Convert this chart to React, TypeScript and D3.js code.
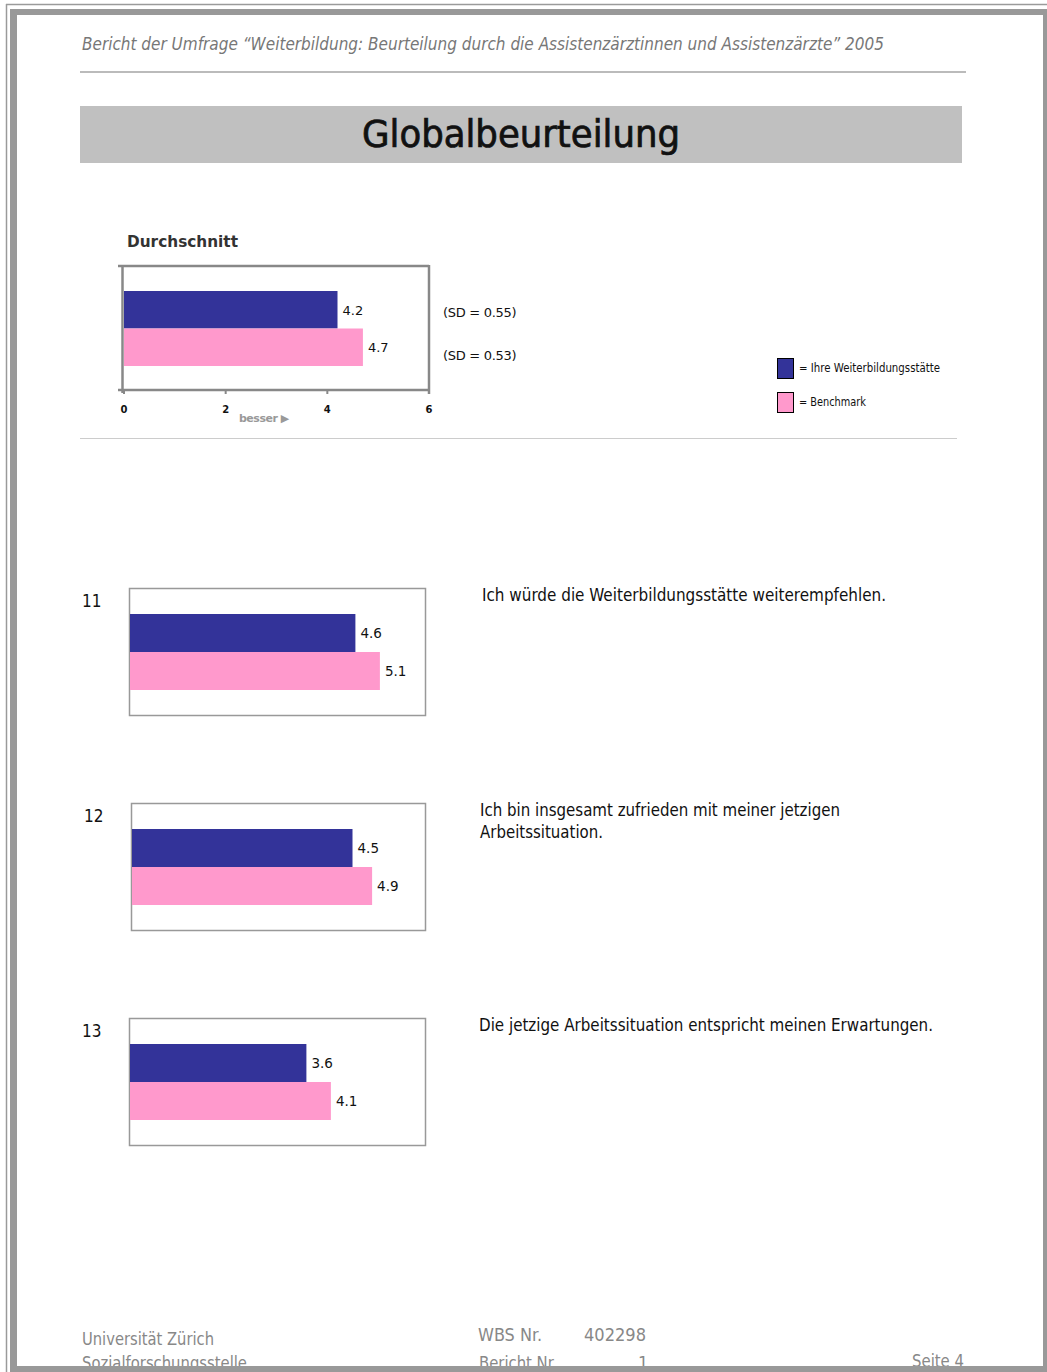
import React from "react";
import * as d3 from "d3";

// Series and values
const seriesNames = ["Ihre Weiterbildungsstätte", "Benchmark"];
const seriesColors = ["#333399", "#ff99cc"];
const averageValues = [4.2, 4.7];
const averageSD = [0.55, 0.53];
const axisTicks = [0, 2, 4, 6];

const questionIds = ["11", "12", "13"];
const questionTexts = [
  ["Ich würde die Weiterbildungsstätte weiterempfehlen."],
  ["Ich bin insgesamt zufrieden mit meiner jetzigen", "Arbeitssituation."],
  ["Die jetzige Arbeitssituation entspricht meinen Erwartungen."],
];
const ownValues = [4.6, 4.5, 3.6];
const benchmarkValues = [5.1, 4.9, 4.1];

const W = 1047;
const H = 1372;
const narrow = "'Liberation Sans Narrow', 'DejaVu Sans Condensed', 'Liberation Sans', sans-serif";
const sans = "'DejaVu Sans', 'Liberation Sans', sans-serif";

// rendered widths of the question lines
const questionLineWidths = [[404], [360, 123], [454]];

function SummaryChart() {
  const x = d3.scaleLinear().domain([0, 6]).range([124, 429]);
  const y = d3.scaleBand<string>().domain(seriesNames).range([291, 366]).padding(0);
  const top = 266;
  const bottom = 390;
  const frame = "#888888";
  return (
    <g>
      <text x={127} y={247} fontFamily={sans} fontWeight="bold" fontSize={16} fill="#333" textLength={111} lengthAdjust="spacingAndGlyphs">
        Durchschnitt
      </text>
      {/* plot frame */}
      <line x1={118} x2={429} y1={top} y2={top} stroke={frame} strokeWidth={2.5} />
      <line x1={118} x2={429} y1={bottom} y2={bottom} stroke={frame} strokeWidth={2.5} />
      <line x1={122.5} x2={122.5} y1={top - 1} y2={bottom + 3} stroke={frame} strokeWidth={2.5} />
      <line x1={429} x2={429} y1={top - 1} y2={bottom + 4} stroke={frame} strokeWidth={2.5} />
      {axisTicks.map((t) => (
        <g key={t}>
          <line x1={x(t)} x2={x(t)} y1={bottom} y2={bottom + 4} stroke={frame} strokeWidth={2} />
          <text x={x(t)} y={413} textAnchor="middle" fontFamily={sans} fontWeight="bold" fontSize={10} fill="#111">
            {t}
          </text>
        </g>
      ))}
      <text x={239} y={422} fontFamily={sans} fontWeight="bold" fontSize={11} fill="#999" letterSpacing={-0.5}>
        besser ▶
      </text>
      {averageValues.map((v, i) => (
        <g key={i}>
          <rect
            x={x(0)}
            y={y(seriesNames[i])!}
            width={x(v) - x(0)}
            height={y.bandwidth()}
            fill={seriesColors[i]}
          />
          <text
            x={x(v) + 5}
            y={y(seriesNames[i])! + y.bandwidth() / 2 + 5}
            fontFamily={sans}
            fontSize={13}
            fill="#111"
          >
            {v.toFixed(1)}
          </text>
          <text x={443} y={317 + i * 43} fontFamily={sans} fontSize={13} fill="#111" letterSpacing={-0.3}>
            {`(SD = ${averageSD[i].toFixed(2)})`}
          </text>
        </g>
      ))}
      {/* legend */}
      {seriesNames.map((s, i) => (
        <g key={s}>
          <rect x={777.5} y={358.5 + i * 34} width={16} height={20} fill={seriesColors[i]} stroke="#000" strokeWidth={1} />
          <text
            x={799}
            y={372 + i * 34}
            fontFamily={narrow}
            fontSize={11.5}
            fill="#111"
            textLength={i === 0 ? 141 : 67}
            lengthAdjust="spacingAndGlyphs"
          >
            {`= ${s}`}
          </text>
        </g>
      ))}
    </g>
  );
}

function QuestionChart({ idx, boxX, boxY }: { idx: number; boxX: number; boxY: number }) {
  const boxRight = 425;
  const boxW = boxRight - boxX;
  const boxH = 127;
  const x = d3.scaleLinear().domain([0, 6]).range([boxX + 1, boxX + 1 + 294]);
  const y = d3.scaleBand<string>().domain(seriesNames).range([boxY + 26, boxY + 102]).padding(0);
  const vals = [ownValues[idx], benchmarkValues[idx]];
  return (
    <g>
      <text x={idx === 1 ? 84 : 82} y={boxY + 19} fontFamily={narrow} fontSize={17} fill="#111">
        {questionIds[idx]}
      </text>
      <rect x={boxX + 0.5} y={boxY + 0.5} width={boxW} height={boxH} fill="#fff" stroke="#999" strokeWidth={1.5} />
      {vals.map((v, i) => (
        <g key={i}>
          <rect
            x={x(0)}
            y={y(seriesNames[i])!}
            width={x(v) - x(0)}
            height={y.bandwidth()}
            fill={seriesColors[i]}
          />
          <text
            x={x(v) + 5}
            y={y(seriesNames[i])! + y.bandwidth() / 2 + 5}
            fontFamily={sans}
            fontSize={13.5}
            fill="#111"
          >
            {v.toFixed(1)}
          </text>
        </g>
      ))}
      {questionTexts[idx].map((line, j) => (
        <text
          key={j}
          x={idx === 2 ? 479 : idx === 1 ? 480 : 482}
          y={boxY + 13 + j * 22}
          fontFamily={narrow}
          fontSize={17}
          fill="#111"
          textLength={questionLineWidths[idx][j]}
          lengthAdjust="spacingAndGlyphs"
        >
          {line}
        </text>
      ))}
    </g>
  );
}

export default function App() {
  const boxes = [
    { x: 129, y: 588 },
    { x: 131, y: 803 },
    { x: 129, y: 1018 },
  ];
  return (
    <svg
      width={W}
      height={H}
      viewBox={`0 0 ${W} ${H}`}
      style={{ position: "absolute", left: 0, top: 0, background: "#fff" }}
    >
      {/* page frame */}
      <rect x={0} y={0} width={W} height={H} fill="#fff" />
      <line x1={6.5} x2={6.5} y1={4} y2={H} stroke="#9a9a9a" strokeWidth={1.5} />
      <line x1={6} x2={W} y1={4.5} y2={4.5} stroke="#9a9a9a" strokeWidth={1.5} />
      <rect x={10} y={9} width={7} height={H - 9} fill="#999" />
      <rect x={10} y={9} width={W - 10} height={6} fill="#999" />
      <rect x={1043} y={9} width={4} height={H - 9} fill="#999" />

      {/* header */}
      <text
        x={82}
        y={50}
        fontFamily={narrow}
        fontStyle="italic"
        fontSize={18}
        fill="#777"
        textLength={802}
        lengthAdjust="spacingAndGlyphs"
      >
        Bericht der Umfrage “Weiterbildung: Beurteilung durch die Assistenzärztinnen und Assistenzärzte” 2005
      </text>
      <line x1={80} x2={966} y1={72} y2={72} stroke="#bbb" strokeWidth={2} />
      <rect x={80} y={106} width={882} height={57} fill="#c0c0c0" />
      <text
        x={362}
        y={147}
        fontFamily={narrow}
        fontSize={37}
        fill="#111"
        stroke="#111"
        strokeWidth={0.7}
        textLength={318}
        lengthAdjust="spacingAndGlyphs"
      >
        Globalbeurteilung
      </text>

      <SummaryChart />
      <line x1={80} x2={957} y1={438.5} y2={438.5} stroke="#ccc" strokeWidth={1} />

      {boxes.map((b, i) => (
        <QuestionChart key={i} idx={i} boxX={b.x} boxY={b.y} />
      ))}

      {/* footer */}
      <g fontFamily={narrow} fontSize={18} fill="#888">
        <text x={82} y={1345} textLength={132} lengthAdjust="spacingAndGlyphs">Universität Zürich</text>
        <text x={82} y={1369} textLength={165} lengthAdjust="spacingAndGlyphs">Sozialforschungsstelle</text>
        <text x={478} y={1341} textLength={64} lengthAdjust="spacingAndGlyphs">WBS Nr.</text>
        <text x={584} y={1341} textLength={62} lengthAdjust="spacingAndGlyphs">402298</text>
        <text x={479} y={1369} textLength={78} lengthAdjust="spacingAndGlyphs">Bericht Nr.</text>
        <text x={638} y={1369}>1</text>
        <text x={912} y={1367} textLength={52} lengthAdjust="spacingAndGlyphs">Seite 4</text>
      </g>
      {/* bottom border drawn over footer text */}
      <rect x={10} y={1366} width={W - 10} height={6} fill="#999" />
    </svg>
  );
}
